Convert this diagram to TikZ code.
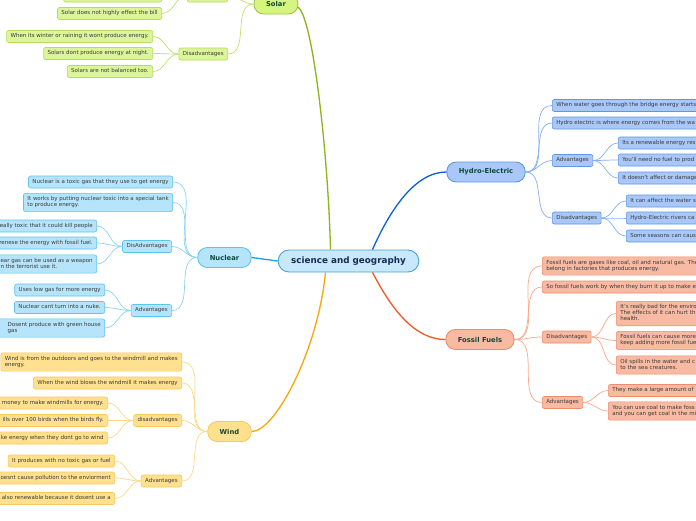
\documentclass[tikz,border=0pt]{standalone}
\usepackage{fontspec}
\setmainfont{DejaVu Sans}
\usetikzlibrary{calc}
\definecolor{solF}{HTML}{DCF59A}\definecolor{solB}{HTML}{B5DC5A}\definecolor{solL}{HTML}{C2E070}\definecolor{solM}{HTML}{8AB51C}\definecolor{solMF}{HTML}{D6F580}
\definecolor{nucF}{HTML}{B5E4FB}\definecolor{nucB}{HTML}{5FC3EE}\definecolor{nucL}{HTML}{8AD3F3}\definecolor{nucM}{HTML}{1EA0E0}
\definecolor{winF}{HTML}{FFE08E}\definecolor{winB}{HTML}{F7C95C}\definecolor{winL}{HTML}{FCD98A}\definecolor{winM}{HTML}{F7A70A}
\definecolor{hydF}{HTML}{A9C8F8}\definecolor{hydB}{HTML}{5D97E6}\definecolor{hydL}{HTML}{86B0EF}\definecolor{hydM}{HTML}{0C5FCF}
\definecolor{fosF}{HTML}{F8BAA2}\definecolor{fosB}{HTML}{EF8C6C}\definecolor{fosL}{HTML}{F6A98E}\definecolor{fosM}{HTML}{EE5A26}
\definecolor{ctrF}{HTML}{C7E9FB}\definecolor{ctrB}{HTML}{4D9FD8}
\definecolor{mtxt}{HTML}{0F4A3D}\definecolor{ctxt}{HTML}{1A2A52}\definecolor{txt}{HTML}{3A3A3A}
\newcommand\lns[1]{\begin{tabular}{@{}l@{}}#1\end{tabular}}
\newcommand\cutl[1]{\makebox[125pt][r]{\lns{#1}}}
\newcommand\cutr[1]{\makebox[170pt][l]{\lns{#1}}}
\tikzset{
  small/.style={rounded corners=2, inner xsep=4, inner ysep=2.9, line width=0.6,
    font=\fontsize{5.5}{6.2}\selectfont, text=txt},
  sol/.style={small, draw=solB, fill=solF},
  nuc/.style={small, draw=nucB, fill=nucF},
  win/.style={small, draw=winB, fill=winF},
  hyd/.style={small, draw=hydB, fill=hydF},
  fos/.style={small, draw=fosB, fill=fosF},
  topic/.style={rounded corners=9.5, minimum height=20, inner xsep=12, line width=0.9,
    font=\fontsize{6.8}{8}\selectfont\bfseries, text=mtxt},
  lnk/.style={line width=0.7, to path={.. controls ($(\tikztostart)+(#1,0)$) and ($(\tikztotarget)+(-#1,0)$) .. (\tikztotarget)}},
}
\begin{document}
\begin{tikzpicture}[x=1pt,y=-1pt]
\useasboundingbox (0,0) rectangle (696,520);
\clip (0,0) rectangle (696,520);
\fill[white] (0,0) rectangle (696,520);

% centre and topics
\node[rounded corners=11, minimum height=22, inner xsep=13, line width=0.9, draw=ctrB, fill=ctrF,
  font=\fontsize{8.8}{10}\selectfont\bfseries, text=ctxt] (ctr) at (348.5,261) {science and geography};
\node[topic, draw=solM!80, fill=solMF] (solar) at (276,4) {Solar};
\node[topic, draw=nucB, fill=nucF] (nuclear) at (224.5,257.5) {Nuclear};
\node[topic, draw=winB, fill=winF] (wind) at (229.5,431.5) {Wind};
\node[topic, draw=hydB, fill=hydF] (hydro) at (486,172) {Hydro-Electric};
\node[topic, draw=fosB, fill=fosF] (fossil) at (480,339.5) {Fossil Fuels};

% main connectors
\draw[solM, line width=1.3] ($(ctr.north)+(-18,0)$) .. controls (328,150) and (312,12) .. ($(solar.east)+(-1,3)$);
\draw[nucM, line width=1.3] (ctr.west) -- (nuclear.east);
\draw[winM, line width=1.3] ($(ctr.south)+(-23,0)$) .. controls (318,350) and (275,432) .. (wind.east);
\draw[hydM, line width=1.3] ($(ctr.north)+(24,0)$) .. controls (390,210) and (415,172) .. (hydro.west);
\draw[fosM, line width=1.3] ($(ctr.south)+(24,0)$) .. controls (392,310) and (415,339.5) .. (fossil.west);

% Solar
\node[sol, anchor=east] (sa) at (228,-4) {\lns{\phantom{Advantages}}};
\node[sol, anchor=east] (sa1) at (162,-4) {\lns{\makebox[90pt]{}}};
\node[sol, anchor=east] (sa2) at (162,13.5) {\lns{Solar does not highly effect the bill}};
\node[sol, anchor=east] (sd) at (228,54) {\lns{Disadvantages}};
\node[sol, anchor=east] (sd1) at (153,36.5) {\lns{When its winter or raining it wont produce energy.}};
\node[sol, anchor=east] (sd2) at (153,53.5) {\lns{Solars dont produce energy at night.}};
\node[sol, anchor=east] (sd3) at (153,71.5) {\lns{Solars are not balanced too.}};
\begin{scope}[solL, line width=0.7]
\draw (solar.west) to[out=180,in=0] (sa.east);
\draw (solar.west) to[out=180,in=0] (sd.east);
\draw (sa.west) to[out=180,in=0] (sa1.east);
\draw (sa.west) to[out=180,in=0] (sa2.east);
\draw (sd.west) to[out=180,in=0] (sd1.east);
\draw (sd.west) to[out=180,in=0] (sd2.east);
\draw (sd.west) to[out=180,in=0] (sd3.east);
\end{scope}

% Nuclear
\node[nuc, anchor=east] (n1) at (173,182) {\lns{Nuclear is a toxic gas that they use to get energy}};
\node[nuc, anchor=east] (n2) at (173,202.5) {\lns{It works by putting nuclear toxic into a special tank\\to produce energy.}};
\node[nuc, anchor=east] (nd) at (172,246.5) {\lns{DisAdvantages}};
\node[nuc, anchor=east] (nd1) at (97,226) {\cutl{eally toxic that it could kill people}};
\node[nuc, anchor=east] (nd2) at (97,243) {\cutl{renese the energy with fossil fuel.}};
\node[nuc, anchor=east] (nd3) at (97,264) {\cutl{ear gas can be used as a weapon\\n the terrorist use it.}};
\node[nuc, anchor=east] (na) at (172,310.5) {\lns{Advantages}};
\node[nuc, anchor=east] (na1) at (105,290) {\lns{Uses low gas for more energy}};
\node[nuc, anchor=east] (na2) at (105,307.5) {\lns{Nuclear cant turn into a nuke.}};
\node[nuc, anchor=east] (na3) at (105,328) {\cutl{Dosent produce with green house\\gas}};
\begin{scope}[nucL, line width=0.7]
\draw (nuclear.west) to[out=180,in=0] (n1.east);
\draw (nuclear.west) to[out=180,in=0] (n2.east);
\draw (nuclear.west) to[out=180,in=0] (nd.east);
\draw (nuclear.west) to[out=180,in=0] (na.east);
\draw (nd.west) to[out=180,in=0] (nd1.east);
\draw (nd.west) to[out=180,in=0] (nd2.east);
\draw (nd.west) to[out=180,in=0] (nd3.east);
\draw (na.west) to[out=180,in=0] (na1.east);
\draw (na.west) to[out=180,in=0] (na2.east);
\draw (na.west) to[out=180,in=0] (na3.east);
\end{scope}

% Wind
\node[win, anchor=east] (w1) at (182,362) {\lns{Wind is from the outdoors and goes to the windmill and makes\\energy.}};
\node[win, anchor=east] (w2) at (182,383) {\lns{When the wind blows the windmill it makes energy}};
\node[win, anchor=east] (wd) at (182,420.5) {\lns{disadvantages}};
\node[win, anchor=east] (wd1) at (108,403) {\cutl{money to make windmills for energy.}};
\node[win, anchor=east] (wd2) at (108,420.5) {\cutl{ills over 100 birds when the birds fly.}};
\node[win, anchor=east] (wd3) at (108,438) {\cutl{ke energy when they dont go to wind}};
\node[win, anchor=east] (wa) at (182,481) {\lns{Advantages}};
\node[win, anchor=east] (wa1) at (115,461) {\lns{It produces with no toxic gas or fuel}};
\node[win, anchor=east] (wa2) at (115,478) {\cutl{doesnt cause pollution to the enviorment}};
\node[win, anchor=east] (wa3) at (115,498.5) {\cutl{also renewable because it dosent use a\\ }};
\begin{scope}[winL, line width=0.7]
\draw (wind.west) to[out=180,in=0] (w1.east);
\draw (wind.west) to[out=180,in=0] (w2.east);
\draw (wind.west) to[out=180,in=0] (wd.east);
\draw (wind.west) to[out=180,in=0] (wa.east);
\draw (wd.west) to[out=180,in=0] (wd1.east);
\draw (wd.west) to[out=180,in=0] (wd2.east);
\draw (wd.west) to[out=180,in=0] (wd3.east);
\draw (wa.west) to[out=180,in=0] (wa1.east);
\draw (wa.west) to[out=180,in=0] (wa2.east);
\draw (wa.west) to[out=180,in=0] (wa3.east);
\end{scope}

% Hydro
\node[hyd, anchor=west] (h1) at (552,105.5) {\cutr{When water goes through the bridge energy starts}};
\node[hyd, anchor=west] (h2) at (552,123) {\cutr{Hydro electric is where energy comes from the wa}};
\node[hyd, anchor=west] (ha) at (552,160.5) {\lns{Advantages}};
\node[hyd, anchor=west] (ha1) at (618,143) {\cutr{Its a renewable energy res}};
\node[hyd, anchor=west] (ha2) at (618,160) {\cutr{You'll need no fuel to prod}};
\node[hyd, anchor=west] (ha3) at (618,178) {\cutr{It doesn't affect or damage}};
\node[hyd, anchor=west] (hd) at (552,218) {\lns{Disadvantages}};
\node[hyd, anchor=west] (hd1) at (626,201) {\cutr{It can affect the water s}};
\node[hyd, anchor=west] (hd2) at (626,218) {\cutr{Hydro-Electric rivers ca}};
\node[hyd, anchor=west] (hd3) at (626,236) {\cutr{Some seasons can caus}};
\begin{scope}[hydL, line width=0.7]
\draw (hydro.east) to[out=0,in=180] (h1.west);
\draw (hydro.east) to[out=0,in=180] (h2.west);
\draw (hydro.east) to[out=0,in=180] (ha.west);
\draw (hydro.east) to[out=0,in=180] (hd.west);
\draw (ha.east) to[out=0,in=180] (ha1.west);
\draw (ha.east) to[out=0,in=180] (ha2.west);
\draw (ha.east) to[out=0,in=180] (ha3.west);
\draw (hd.east) to[out=0,in=180] (hd1.west);
\draw (hd.east) to[out=0,in=180] (hd2.west);
\draw (hd.east) to[out=0,in=180] (hd3.west);
\end{scope}

% Fossil
\node[fos, anchor=west] (f1) at (542,266) {\cutr{Fossil fuels are gases like coal, oil and natural gas. The\\belong in factories that produces energy.}};
\node[fos, anchor=west] (f2) at (542,287) {\cutr{So fossil fuels work by when they burn it up to make e}};
\node[fos, anchor=west] (fd) at (542,337) {\lns{Disadvantages}};
\node[fos, anchor=west] (fd1) at (616,313.5) {\cutr{It's really bad for the enviro\\The effects of it can hurt th\\health.}};
\node[fos, anchor=west] (fd2) at (616,340.5) {\cutr{Fossil fuels can cause more\\keep adding more fossil fue}};
\node[fos, anchor=west] (fd3) at (616,365) {\cutr{Oil spills in the water and c\\to the sea creatures.}};
\node[fos, anchor=west] (fa) at (542,402.5) {\lns{Advantages}};
\node[fos, anchor=west] (fa1) at (608,390.5) {\cutr{They make a large amount of}};
\node[fos, anchor=west] (fa2) at (608,411) {\cutr{You can use coal to make foss\\and you can get coal in the mi}};
\begin{scope}[fosL, line width=0.7]
\draw (fossil.east) to[out=0,in=180] (f1.west);
\draw (fossil.east) to[out=0,in=180] (f2.west);
\draw (fossil.east) to[out=0,in=180] (fd.west);
\draw (fossil.east) to[out=0,in=180] (fa.west);
\draw (fd.east) to[out=0,in=180] (fd1.west);
\draw (fd.east) to[out=0,in=180] (fd2.west);
\draw (fd.east) to[out=0,in=180] (fd3.west);
\draw (fa.east) to[out=0,in=180] (fa1.west);
\draw (fa.east) to[out=0,in=180] (fa2.west);
\end{scope}
\end{tikzpicture}
\end{document}
